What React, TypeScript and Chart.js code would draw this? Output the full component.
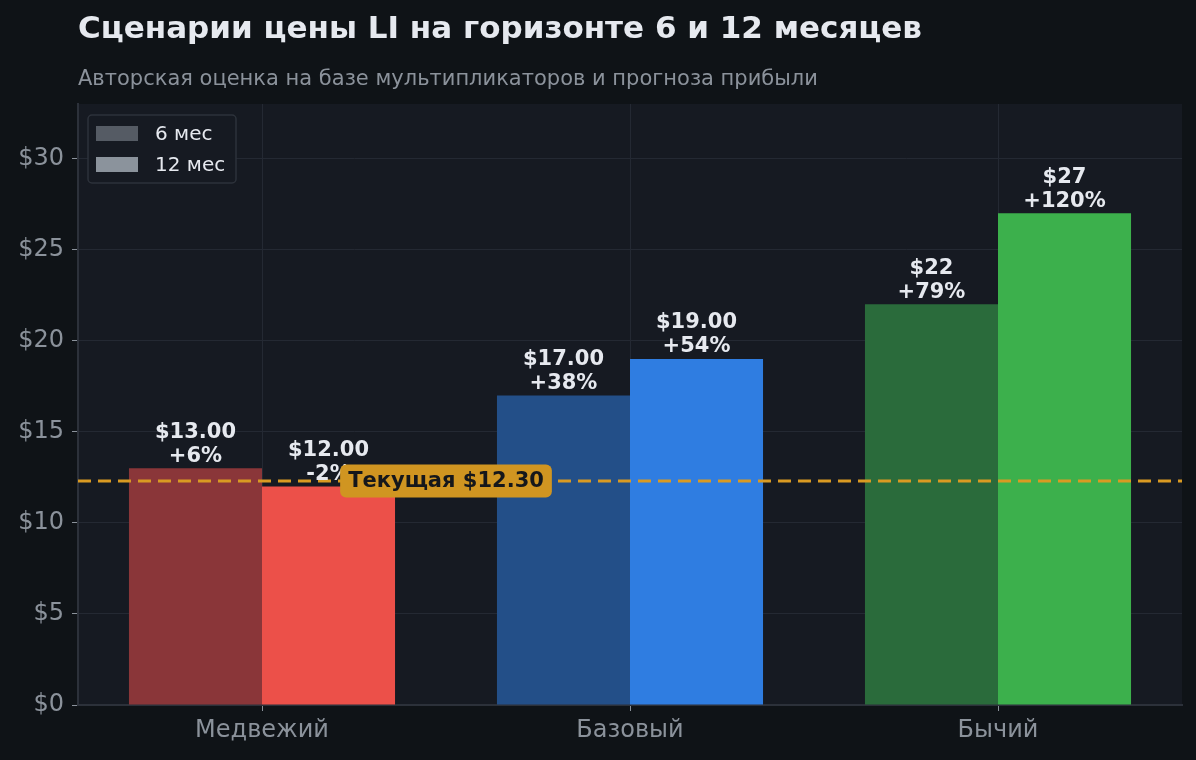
import React, { useEffect, useRef } from "react";
import { Chart, registerables } from "chart.js";

Chart.register(...registerables);

const categories = ["Медвежий", "Базовый", "Бычий"];
const seriesNames = ["6 мес", "12 мес"];
const values6m = [13, 17, 22];
const values12m = [12, 19, 27];
const labels6m = ["$13.00\n+6%", "$17.00\n+38%", "$22\n+79%"];
const labels12m = ["$12.00\n-2%", "$19.00\n+54%", "$27\n+120%"];
const colors6m = ["#8a3639", "#234f88", "#2a6b3b"];
const colors12m = ["#ec5049", "#2f7de1", "#3cb04c"];
const legendColors = ["#555b64", "#8b939c"];
const currentPrice = 12.3;
const currentLabel = "Текущая $12.30";
const yTicks = [0, 5, 10, 15, 20, 25, 30];
const title = "Сценарии цены LI на горизонте 6 и 12 месяцев";
const subtitle = "Авторская оценка на базе мультипликаторов и прогноза прибыли";

const FONT = "'DejaVu Sans', sans-serif";

const customPlugin = {
  id: "custom",
  beforeDraw(chart: any) {
    const { ctx, chartArea } = chart;
    ctx.save();
    ctx.fillStyle = "#0f1317";
    ctx.fillRect(0, 0, chart.width, chart.height);
    ctx.fillStyle = "#161a22";
    ctx.fillRect(chartArea.left, chartArea.top, chartArea.right - chartArea.left, chartArea.bottom - chartArea.top);
    // titles
    ctx.textAlign = "left";
    ctx.textBaseline = "middle";
    ctx.fillStyle = "#e6e9ef";
    ctx.font = `bold 31px ${FONT}`;
    ctx.fillText(title, 78, 30);
    ctx.fillStyle = "#8b929b";
    ctx.font = `21px ${FONT}`;
    ctx.fillText(subtitle, 78, 80);
    ctx.restore();
  },
  afterDatasetsDraw(chart: any) {
    const { ctx, chartArea, scales } = chart;
    const y = scales.y.getPixelForValue(currentPrice);
    ctx.save();
    // dashed line
    ctx.strokeStyle = "#d99a22";
    ctx.lineWidth = 2.8;
    ctx.setLineDash([13, 7]);
    ctx.beginPath();
    ctx.moveTo(chartArea.left, y);
    ctx.lineTo(chartArea.right, y);
    ctx.stroke();
    ctx.setLineDash([]);

    // data labels
    ctx.font = `bold 21px ${FONT}`;
    ctx.fillStyle = "#e6e9ef";
    ctx.textAlign = "center";
    ctx.textBaseline = "middle";
    const allLabels = [labels6m, labels12m];
    chart.data.datasets.forEach((_: any, di: number) => {
      const meta = chart.getDatasetMeta(di);
      meta.data.forEach((bar: any, i: number) => {
        const lines = allLabels[di][i].split("\n");
        ctx.fillText(lines[0], bar.x, bar.y - 36);
        ctx.fillText(lines[1], bar.x, bar.y - 12);
      });
    });

    // current price label box
    const cx = scales.x.getPixelForValue(0.5);
    ctx.font = `bold 21px ${FONT}`;
    const tw = ctx.measureText(currentLabel).width;
    const bw = tw + 16;
    const bh = 33;
    ctx.fillStyle = "#d09521";
    ctx.beginPath();
    (ctx as any).roundRect(cx - bw / 2, y - bh / 2, bw, bh, 6);
    ctx.fill();
    ctx.fillStyle = "#15171b";
    ctx.fillText(currentLabel, cx, y + 1);

    // legend
    const lx = chartArea.left + 10;
    const ly = chartArea.top + 11;
    ctx.fillStyle = "#161a22";
    ctx.strokeStyle = "#2d323b";
    ctx.lineWidth = 1.5;
    ctx.beginPath();
    (ctx as any).roundRect(lx, ly, 148, 68, 4);
    ctx.fill();
    ctx.stroke();
    ctx.font = `20px ${FONT}`;
    ctx.textAlign = "left";
    seriesNames.forEach((name, i) => {
      const rowY = ly + 18 + i * 31;
      ctx.fillStyle = legendColors[i];
      ctx.fillRect(lx + 8, rowY - 7, 42, 15);
      ctx.fillStyle = "#e6e9ef";
      ctx.fillText(name, lx + 67, rowY + 2);
    });
    ctx.restore();
  },
};

export default function App() {
  const ref = useRef<HTMLCanvasElement>(null);
  useEffect(() => {
    document.body.style.margin = "0";
    const chart = new Chart(ref.current as HTMLCanvasElement, {
      type: "bar",
      data: {
        labels: categories,
        datasets: [
          {
            label: seriesNames[0],
            data: values6m,
            backgroundColor: colors6m,
            borderWidth: 0,
            barPercentage: 1,
            categoryPercentage: 0.723,
          },
          {
            label: seriesNames[1],
            data: values12m,
            backgroundColor: colors12m,
            borderWidth: 0,
            barPercentage: 1,
            categoryPercentage: 0.723,
          },
        ],
      },
      options: {
        responsive: false,
        animation: false,
        devicePixelRatio: 1,
        layout: { padding: { top: 104, right: 14, left: 0, bottom: 0 } },
        plugins: {
          legend: { display: false },
          tooltip: { enabled: false },
          title: { display: false },
        },
        scales: {
          x: {
            offset: true,
            grid: {
              offset: false,
              color: "#242933",
              tickColor: "#8b929b",
              tickLength: 6,
              drawTicks: true,
            },
            border: { color: "#2c313a", width: 2 },
            ticks: {
              color: "#8b929b",
              font: { family: FONT, size: 24 },
              padding: 5,
            },
            afterFit(scale: any) {
              scale.height = 55;
            },
          },
          y: {
            min: 0,
            max: 33,
            afterBuildTicks(scale: any) {
              scale.ticks = yTicks.map((v) => ({ value: v }));
            },
            grid: {
              color: "#242933",
              tickColor: "#8b929b",
              tickLength: 6,
            },
            border: { color: "#2c313a", width: 2 },
            ticks: {
              color: "#8b929b",
              font: { family: FONT, size: 24 },
              padding: 8,
              callback: (v: any) => `$${v}`,
            },
            afterFit(scale: any) {
              scale.width = 78;
            },
          },
        },
      },
      plugins: [customPlugin],
    });
    return () => chart.destroy();
  }, []);
  return (
    <div style={{ width: 1196, height: 760, background: "#0f1317" }}>
      <canvas ref={ref} width={1196} height={760} style={{ display: "block" }} />
    </div>
  );
}
